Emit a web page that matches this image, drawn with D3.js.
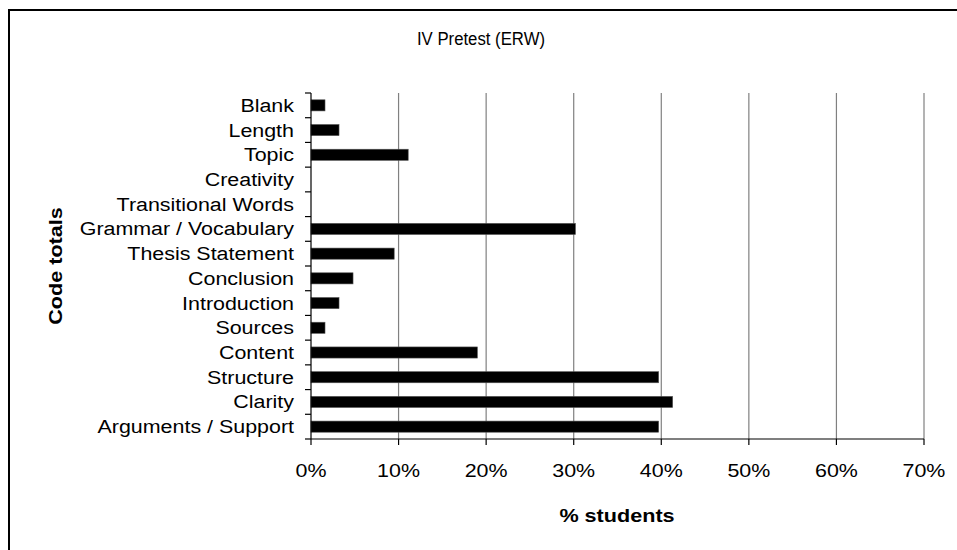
<!DOCTYPE html>
<html lang="en">

<head>
  <meta charset="UTF-8">
  <title>IV Pretest (ERW)</title>
  <style>
    html,
    body {
      margin: 0;
      background: #fff;
    }

    text {
      font-family: "Liberation Sans", Arial, sans-serif;
      fill: #000;
    }
  </style>
</head>

<body>
  <div id="main"></div>

  <script src="https://cdn.jsdelivr.net/npm/d3@7"></script>

  <script>
    // data, top to bottom
    const categories = [
      'Blank', 'Length', 'Topic', 'Creativity', 'Transitional Words',
      'Grammar / Vocabulary', 'Thesis Statement', 'Conclusion', 'Introduction',
      'Sources', 'Content', 'Structure', 'Clarity', 'Arguments / Support'
    ]
    const values = [1.6, 3.2, 11.1, 0, 0, 30.2, 9.5, 4.8, 3.2, 1.6, 19.0, 39.7, 41.3, 39.7]
    const xTicks = [0, 10, 20, 30, 40, 50, 60, 70]

    const W = 957, H = 550
    const plotL = 311, plotR = 924, plotT = 93, plotB = 439

    const svg = d3.select('#main').append('svg')
      .attr('width', W).attr('height', H)

    // outer frame
    svg.append('rect')
      .attr('x', 9).attr('y', 10)
      .attr('width', W + 20).attr('height', H + 20)
      .attr('fill', 'none').attr('stroke', '#000').attr('stroke-width', 2)

    const x = d3.scaleLinear().domain([0, 70]).range([plotL, plotR])
    const y = d3.scaleBand().domain(categories).range([plotT, plotB]).paddingInner(0.55).paddingOuter(0.275)

    // stretch text horizontally like the original
    function stretch(sel, k) {
      sel.each(function () {
        const w = this.getComputedTextLength()
        d3.select(this).attr('textLength', w * k).attr('lengthAdjust', 'spacingAndGlyphs')
      })
    }

    // grid
    svg.append('g').selectAll('line')
      .data(xTicks.slice(1))
      .join('line')
      .attr('x1', d => x(d)).attr('x2', d => x(d))
      .attr('y1', plotT).attr('y2', plotB)
      .attr('stroke', '#808080').attr('stroke-width', 1.2)

    // bars
    svg.append('g').selectAll('rect')
      .data(values)
      .join('rect')
      .attr('x', x(0))
      .attr('y', (d, i) => y(categories[i]))
      .attr('width', d => x(d) - x(0))
      .attr('height', y.bandwidth())
      .attr('fill', '#000')
      .attr('stroke', '#555').attr('stroke-width', 0.6)

    // axes
    const ax = svg.append('g').attr('stroke', '#000').attr('stroke-width', 1.2)
    ax.append('line').attr('x1', plotL).attr('x2', plotL).attr('y1', plotT).attr('y2', plotB)
    ax.append('line').attr('x1', plotL).attr('x2', plotR).attr('y1', plotB).attr('y2', plotB)

    const step = (plotB - plotT) / categories.length
    ax.selectAll('.yt')
      .data(d3.range(categories.length + 1))
      .join('line')
      .attr('class', 'yt')
      .attr('x1', plotL - 6).attr('x2', plotL)
      .attr('y1', d => plotT + d * step).attr('y2', d => plotT + d * step)

    ax.selectAll('.xt')
      .data(xTicks)
      .join('line')
      .attr('class', 'xt')
      .attr('x1', d => x(d)).attr('x2', d => x(d))
      .attr('y1', plotB).attr('y2', plotB + 6)

    // category labels
    const yl = svg.append('g').selectAll('text')
      .data(categories)
      .join('text')
      .attr('x', 294)
      .attr('y', d => y(d) + y.bandwidth() / 2)
      .attr('dy', '0.36em')
      .attr('text-anchor', 'end')
      .attr('font-size', 18)
      .text(d => d)
    stretch(yl, 1.19)

    // tick labels
    const xl = svg.append('g').selectAll('text')
      .data(xTicks)
      .join('text')
      .attr('x', d => x(d))
      .attr('y', 477)
      .attr('text-anchor', 'middle')
      .attr('font-size', 18)
      .text(d => d + '%')
    stretch(xl, 1.19)

    // title
    const tt = svg.append('text')
      .attr('x', 481).attr('y', 45)
      .attr('text-anchor', 'middle')
      .attr('font-size', 18)
      .text('IV Pretest (ERW)')
    stretch(tt, 0.93)

    // axis titles
    const xt = svg.append('text')
      .attr('x', 617).attr('y', 522)
      .attr('text-anchor', 'middle')
      .attr('font-size', 18).attr('font-weight', 'bold')
      .text('% students')
    stretch(xt, 1.2)

    const yt = svg.append('text')
      .attr('transform', 'translate(62,266) rotate(-90)')
      .attr('text-anchor', 'middle')
      .attr('font-size', 18).attr('font-weight', 'bold')
      .text('Code totals')
    stretch(yt, 1.2)
  </script>
</body>

</html>
